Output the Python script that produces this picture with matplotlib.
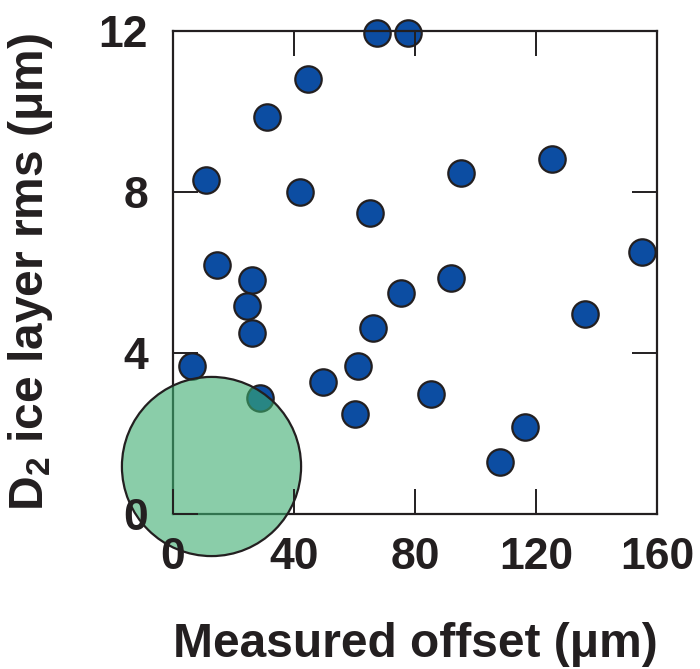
import matplotlib
matplotlib.use("Agg")
import matplotlib.pyplot as plt

# measured points
offset_um = [67.5, 77.8, 44.5, 31.1, 11.1, 42.1, 65.2, 14.5, 26.1, 75.3,
             95.4, 125.3, 155.1, 91.9, 136.2, 24.4, 26.0, 6.2, 28.7, 66.1,
             61.2, 49.5, 60.2, 85.2, 116.3, 108.3]
rms_um = [11.95, 11.95, 10.81, 9.86, 8.30, 7.99, 7.47, 6.17, 5.80, 5.49,
          8.47, 8.80, 6.49, 5.86, 4.96, 5.16, 4.48, 3.67, 2.87, 4.60,
          3.67, 3.28, 2.47, 2.96, 2.15, 1.27]

# the big target circle
target_x = [12.7]
target_y = [1.18]

x_ticks = [0, 40, 80, 120, 160]
y_ticks = [0, 4, 8, 12]

plt.rcParams['font.family'] = ['Liberation Sans', 'DejaVu Sans']
plt.rcParams['font.weight'] = 'bold'
plt.rcParams['axes.labelweight'] = 'bold'
plt.rcParams['mathtext.fontset'] = 'custom'
plt.rcParams['mathtext.bf'] = 'Liberation Sans:bold'
plt.rcParams['mathtext.rm'] = 'Liberation Sans:bold'
plt.rcParams['mathtext.default'] = 'bf'

ink = '#231f20'
fig = plt.figure(figsize=(7, 6.69), dpi=100)
ax = fig.add_axes([0.247, 0.2324, 0.6914, 0.7217])

ax.plot(offset_um, rms_um, linestyle='none', marker='o', markersize=19,
        markerfacecolor='#0c4da2', markeredgecolor=ink, markeredgewidth=1.6,
        clip_on=False, zorder=2)

# translucent green disc on top of everything but the tick labels
ax.plot(target_x, target_y, linestyle='none', marker='o', markersize=129,
        markerfacecolor=(60/255, 173/255, 112/255, 0.6), markeredgecolor=ink,
        markeredgewidth=1.6, clip_on=False, zorder=3)

ax.set_xlim(0, 160)
ax.set_ylim(0, 12)
ax.set_xticks(x_ticks)
ax.set_yticks(y_ticks)
ax.tick_params(direction='in', length=18, width=1.4, color=ink,
               labelsize=32, labelcolor=ink, top=True, right=True, pad=17)
ax.tick_params(axis='y', pad=18)
ax.xaxis.set_zorder(4)
ax.yaxis.set_zorder(4)
for sp in ax.spines.values():
    sp.set_linewidth(1.6)
    sp.set_color(ink)
    sp.set_zorder(2.5)

ax.set_xlabel('Measured offset (μm)', fontsize=34.5, fontweight='bold', color=ink)
ax.set_ylabel(r'D$_2$ ice layer rms (μm)', fontsize=34.5, fontweight='bold', color=ink)
ax.xaxis.set_label_coords(0.5, -0.225)
ax.yaxis.set_label_coords(-0.243, 0.5)

fig.savefig('out.png', dpi=100)
